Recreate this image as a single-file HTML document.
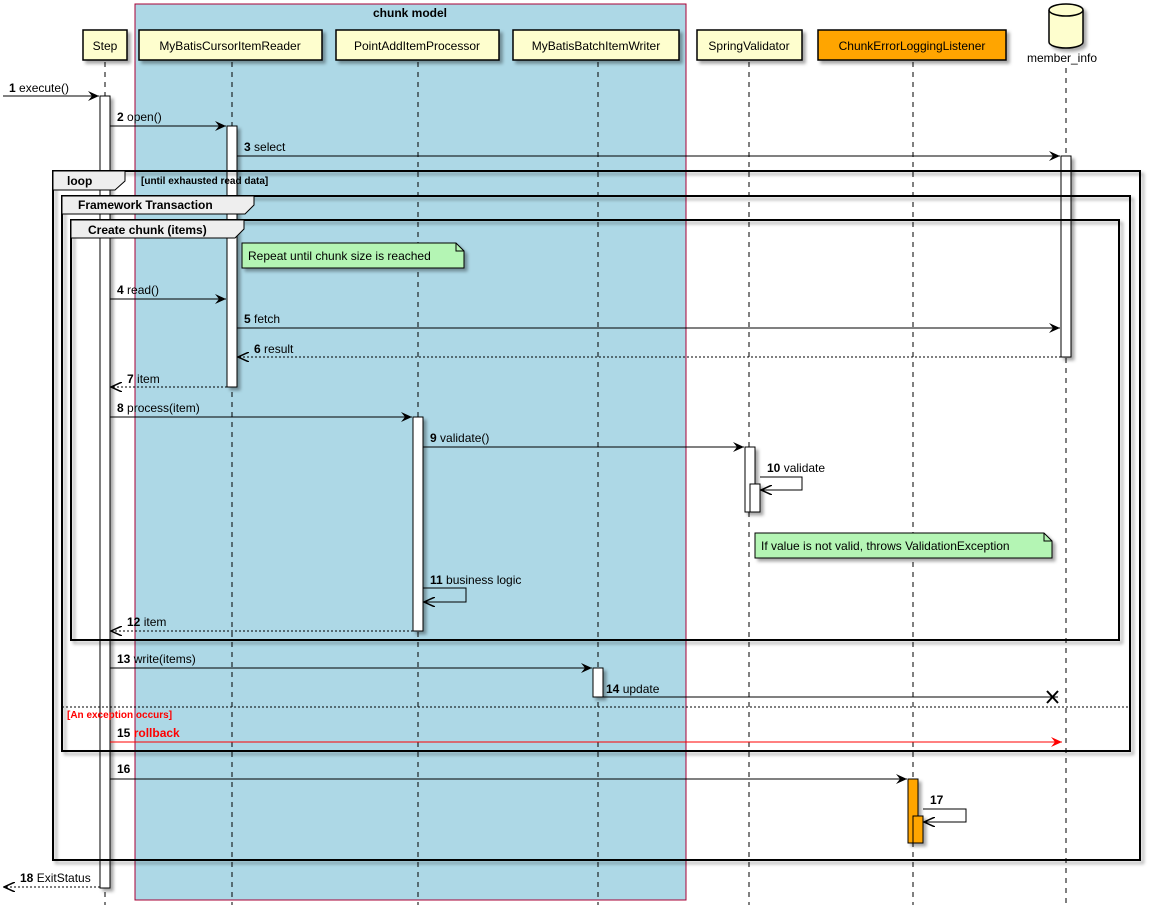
<!DOCTYPE html>
<html><head><meta charset="utf-8"><style>
html,body{margin:0;padding:0;background:#fff}
svg{display:block}
text{font-family:"Liberation Sans",sans-serif;font-size:12px;fill:#000}
.b{font-weight:bold}
.ll{stroke:#000;stroke-width:1;stroke-dasharray:5,5}
.m{stroke:#000;stroke-width:1;fill:none}
.d{stroke:#000;stroke-width:1;fill:none;stroke-dasharray:2,2}
.act{fill:#fff;stroke:#000;stroke-width:1}
.hd{fill:#FEFECE;stroke:#000;stroke-width:1.5}
.fr{fill:none;stroke:#000;stroke-width:2}
.tab{fill:#EEEEEE;stroke:#000;stroke-width:1}
.note{fill:#B4F5B4;stroke:#000;stroke-width:1}
</style></head><body>
<svg width="1151" height="917" viewBox="0 0 1151 917" xmlns="http://www.w3.org/2000/svg">
<defs>
<filter id="sh" x="-5%" y="-5%" width="115%" height="120%"><feDropShadow dx="3" dy="3" stdDeviation="1.5" flood-color="#000" flood-opacity="0.35"/></filter>
<marker id="ar" markerWidth="12" markerHeight="10" refX="11" refY="5" orient="auto" markerUnits="userSpaceOnUse"><path d="M0,0 L11,5 L0,10 L4,5 Z" fill="#000"/></marker>
<marker id="ao" markerWidth="12" markerHeight="10" refX="11" refY="5" orient="auto" markerUnits="userSpaceOnUse"><path d="M0,0 L11,5 L0,10" fill="none" stroke="#000" stroke-width="1.5"/></marker>
<marker id="ar2" markerWidth="12" markerHeight="10" refX="11" refY="5" orient="auto" markerUnits="userSpaceOnUse"><path d="M0,0 L11,5 L0,10 L4,5 Z" fill="#f00"/></marker>
</defs>
<!-- chunk model box -->
<rect x="135" y="4" width="551" height="896" fill="#ADD8E6" stroke="#A80036" stroke-width="1"/>
<text x="410" y="17" text-anchor="middle" class="b">chunk model</text>
<!-- lifelines -->
<line class="ll" x1="105" y1="62" x2="105" y2="905"/>
<line class="ll" x1="232" y1="62" x2="232" y2="905"/>
<line class="ll" x1="418" y1="62" x2="418" y2="905"/>
<line class="ll" x1="598" y1="62" x2="598" y2="905"/>
<line class="ll" x1="749" y1="62" x2="749" y2="905"/>
<line class="ll" x1="913" y1="62" x2="913" y2="905"/>
<line class="ll" x1="1066" y1="68" x2="1066" y2="905"/>
<!-- headers -->
<g filter="url(#sh)">
<rect class="hd" x="83" y="30" width="44" height="30"/>
<rect class="hd" x="139" y="30" width="183" height="30"/>
<rect class="hd" x="336" y="30" width="163" height="30"/>
<rect class="hd" x="513" y="30" width="166" height="30"/>
<rect class="hd" x="697" y="30" width="105" height="30"/>
<rect x="818" y="30" width="188" height="30" fill="#FFA500" stroke="#000" stroke-width="1.5"/>
<path d="M1049,10 L1049,42 A17,6 0 0 0 1083,42 L1083,10" fill="#FEFECE" stroke="#000" stroke-width="1.5"/>
<ellipse cx="1066" cy="10" rx="17" ry="6" fill="#FEFECE" stroke="#000" stroke-width="1.5"/>
</g>
<text x="105" y="50" text-anchor="middle">Step</text>
<text x="230" y="50" text-anchor="middle">MyBatisCursorItemReader</text>
<text x="417" y="50" text-anchor="middle">PointAddItemProcessor</text>
<text x="596" y="50" text-anchor="middle">MyBatisBatchItemWriter</text>
<text x="749" y="50" text-anchor="middle">SpringValidator</text>
<text x="912" y="50" text-anchor="middle">ChunkErrorLoggingListener</text>
<text x="1062" y="62" text-anchor="middle">member_info</text>
<!-- activations -->
<g filter="url(#sh)">
<rect class="act" x="100" y="96" width="10" height="792"/>
<rect class="act" x="227" y="126" width="10" height="261"/>
<rect class="act" x="1061" y="156" width="10" height="201"/>
<rect class="act" x="413" y="417" width="10" height="214"/>
<rect class="act" x="745" y="447" width="10" height="65"/>
<rect class="act" x="750" y="484" width="10" height="28"/>
<rect class="act" x="593" y="668" width="10" height="29"/>
<rect x="908" y="779" width="10" height="64" fill="#FFA500" stroke="#000"/>
<rect x="913" y="816" width="10" height="27" fill="#FFA500" stroke="#000"/>
</g>
<!-- frames -->
<g filter="url(#sh)">
<rect class="fr" x="53" y="171" width="1087" height="689"/>
<rect class="fr" x="62" y="196" width="1068" height="555"/>
<rect class="fr" x="71" y="220" width="1048" height="420"/>
</g>
<path class="tab" d="M53,171 L125,171 L125,181 L115,190 L53,190 Z"/>
<text x="67" y="185" class="b">loop</text>
<text x="141" y="184" class="b" style="font-size:10px">[until exhausted read data]</text>
<path class="tab" d="M62,196 L254,196 L254,205 L245,214 L62,214 Z"/>
<text x="78" y="209" class="b">Framework Transaction</text>
<path class="tab" d="M71,220 L244,220 L244,229 L235,238 L71,238 Z"/>
<text x="88" y="234" class="b">Create chunk (items)</text>
<line x1="62" y1="707" x2="1130" y2="707" stroke="#000" stroke-dasharray="2,2"/>
<text x="67" y="718" style="font-size:10px;fill:#f00" class="b">[An exception occurs]</text>
<!-- notes -->
<g filter="url(#sh)">
<path class="note" d="M242,243 L456,243 L464,251 L464,268 L242,268 Z"/>
<path class="note" d="M755,533 L1044,533 L1052,541 L1052,558 L755,558 Z"/>
</g>
<path d="M456,243 L456,251 L464,251" fill="none" stroke="#000"/>
<path d="M1044,533 L1044,541 L1052,541" fill="none" stroke="#000"/>
<text x="248" y="260">Repeat until chunk size is reached</text>
<text x="761" y="550">If value is not valid, throws ValidationException</text>
<!-- messages -->
<line class="m" x1="3" y1="96" x2="99" y2="96" marker-end="url(#ar)"/>
<text x="9" y="92"><tspan class="b">1</tspan> execute()</text>
<line class="m" x1="110" y1="126" x2="226" y2="126" marker-end="url(#ar)"/>
<text x="117" y="121"><tspan class="b">2</tspan> open()</text>
<line class="m" x1="237" y1="156" x2="1060" y2="156" marker-end="url(#ar)"/>
<text x="244" y="151"><tspan class="b">3</tspan> select</text>
<line class="m" x1="110" y1="299" x2="226" y2="299" marker-end="url(#ar)"/>
<text x="117" y="294"><tspan class="b">4</tspan> read()</text>
<line class="m" x1="237" y1="328" x2="1060" y2="328" marker-end="url(#ar)"/>
<text x="244" y="323"><tspan class="b">5</tspan> fetch</text>
<line class="d" x1="1061" y1="357" x2="238" y2="357" marker-end="url(#ao)"/>
<text x="254" y="353"><tspan class="b">6</tspan> result</text>
<line class="d" x1="227" y1="387" x2="111" y2="387" marker-end="url(#ao)"/>
<text x="127" y="383"><tspan class="b">7</tspan> item</text>
<line class="m" x1="110" y1="417" x2="412" y2="417" marker-end="url(#ar)"/>
<text x="117" y="412"><tspan class="b">8</tspan> process(item)</text>
<line class="m" x1="423" y1="447" x2="744" y2="447" marker-end="url(#ar)"/>
<text x="430" y="442"><tspan class="b">9</tspan> validate()</text>
<path class="m" d="M760,477 L802,477 L802,490 L761,490" marker-end="url(#ao)"/>
<text x="767" y="472"><tspan class="b">10</tspan> validate</text>
<path class="m" d="M423,588 L466,588 L466,602 L424,602" marker-end="url(#ao)"/>
<text x="430" y="584"><tspan class="b">11</tspan> business logic</text>
<line class="d" x1="413" y1="631" x2="111" y2="631" marker-end="url(#ao)"/>
<text x="127" y="626"><tspan class="b">12</tspan> item</text>
<line class="m" x1="110" y1="668" x2="592" y2="668" marker-end="url(#ar)"/>
<text x="117" y="663"><tspan class="b">13</tspan> write(items)</text>
<line class="m" x1="603" y1="697" x2="1058" y2="697"/>
<path d="M1047,691 L1058,703 M1058,691 L1047,703" stroke="#000" stroke-width="2"/>
<text x="606" y="693"><tspan class="b">14</tspan> update</text>
<line x1="110" y1="742" x2="1062" y2="742" stroke="#f00" marker-end="url(#ar2)"/>
<text x="117" y="737" style="fill:#f00"><tspan class="b" style="fill:#000">15</tspan> <tspan class="b" style="fill:#f00">rollback</tspan></text>
<line class="m" x1="110" y1="779" x2="907" y2="779" marker-end="url(#ar)"/>
<text x="117" y="773" class="b">16</text>
<path class="m" d="M923,809 L966,809 L966,822 L924,822" marker-end="url(#ao)"/>
<text x="930" y="804" class="b">17</text>
<line class="d" x1="100" y1="887" x2="4" y2="887" marker-end="url(#ao)"/>
<text x="20" y="882"><tspan class="b">18</tspan> ExitStatus</text>
</svg>
</body></html>
